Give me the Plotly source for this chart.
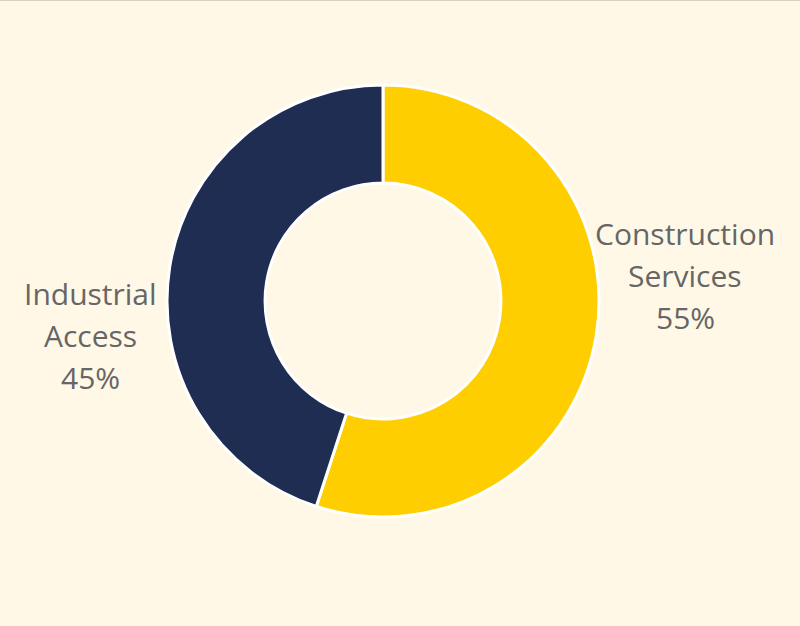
import plotly.graph_objects as go

# Revenue split by business segment
segments = ["Construction Services", "Industrial Access"]
shares = [55, 45]
colors = ["#FFCE00", "#1F2D52"]

# Label lines and their positions (paper coordinates)
label_lines = [
    ["Construction", "Services"],
    ["Industrial", "Access"],
]
label_x = [685 / 800, 90 / 800]
label_top_y = [1 - 233 / 626, 1 - 293 / 626]
line_step = 42 / 626

W, H = 800, 626
cx, cy, r = 383, 301, 216

fig = go.Figure(
    go.Pie(
        labels=segments,
        values=shares,
        hole=0.546,
        sort=False,
        direction="clockwise",
        rotation=0,
        marker=dict(colors=colors, line=dict(color="#FFFFFF", width=3)),
        textinfo="none",
        hoverinfo="label+percent",
        showlegend=False,
        domain=dict(
            x=[(cx - r) / W, (cx + r) / W],
            y=[(H - cy - r) / H, (H - cy + r) / H],
        ),
    )
)

total = sum(shares)
annotations = []
for lines, val, x, y0 in zip(label_lines, shares, label_x, label_top_y):
    texts = lines + [f"{round(100 * val / total)}%"]
    for i, t in enumerate(texts):
        annotations.append(
            dict(
                x=x,
                y=y0 - i * line_step,
                xref="paper",
                yref="paper",
                text=t,
                showarrow=False,
                xanchor="center",
                yanchor="middle",
                font=dict(family="Open Sans", size=30, color="#666666"),
            )
        )

fig.update_layout(
    width=W,
    height=H,
    margin=dict(l=0, r=0, t=0, b=0),
    paper_bgcolor="#FFF8E7",
    plot_bgcolor="#FFF8E7",
    annotations=annotations,
    shapes=[
        dict(
            type="line",
            xref="paper",
            yref="paper",
            x0=0,
            x1=1,
            y0=1,
            y1=1,
            line=dict(color="#D6D0BE", width=2),
        )
    ],
)

fig.write_html("out.html")
